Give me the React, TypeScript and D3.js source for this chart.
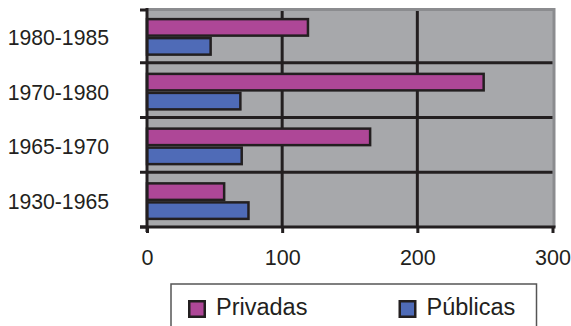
import React, { useEffect, useRef } from 'react';
import * as d3 from 'd3';

const categories = ['1980-1985', '1970-1980', '1965-1970', '1930-1965'];
const series = ['Privadas', 'Públicas'];
const privadas = [120, 250, 166, 58];
const publicas = [48, 70, 71, 76];
const xTicks = [0, 100, 200, 300];

const colors: Record<string, string> = { Privadas: '#ae4797', 'Públicas': '#4f6bb7' };
const dark = '#231f20';

const App: React.FC = () => {
  const svgRef = useRef<SVGSVGElement | null>(null);

  useEffect(() => {
    const width = 571;
    const height = 326;
    const plot = { left: 147, right: 552.5, top: 8, bottom: 227 };
    const svg = d3.select(svgRef.current);
    svg.selectAll('*').remove();
    svg.attr('width', width).attr('height', height);

    const x = d3.scaleLinear().domain([0, 300]).range([plot.left, plot.right]);
    const y = d3.scaleBand().domain(categories).range([plot.top, plot.bottom]);
    const inner = d3.scaleBand().domain(series).range([0, 38]);
    const groupOffset = (y.bandwidth() - 38) / 2 + 1.5;

    // background
    svg.append('rect')
      .attr('x', plot.left).attr('y', plot.top)
      .attr('width', plot.right - plot.left + 2).attr('height', plot.bottom - plot.top)
      .attr('fill', '#a7a8ab');

    // top / right border
    svg.append('path')
      .attr('d', `M${plot.left},${plot.top + 1.5}H${plot.right + 1.5}V${plot.bottom}`)
      .attr('fill', 'none').attr('stroke', '#8b8c8f').attr('stroke-width', 3);

    // vertical gridlines
    svg.append('g').selectAll('line')
      .data([100, 200]).enter().append('line')
      .attr('x1', d => x(d)).attr('x2', d => x(d))
      .attr('y1', plot.top + 3).attr('y2', plot.bottom)
      .attr('stroke', dark).attr('stroke-width', 3);

    // category separators
    svg.append('g').selectAll('line')
      .data(categories.slice(1)).enter().append('line')
      .attr('x1', plot.left).attr('x2', plot.right)
      .attr('y1', d => y(d) as number).attr('y2', d => y(d) as number)
      .attr('stroke', dark).attr('stroke-width', 3);

    // bars
    const rows = categories.map((c, i) => ({ cat: c, values: [privadas[i], publicas[i]] }));
    const sw = 2.5;
    svg.append('g').selectAll('g')
      .data(rows).enter().append('g')
      .attr('transform', d => `translate(0,${(y(d.cat) as number) + groupOffset})`)
      .selectAll('rect')
      .data(d => d.values.map((v, j) => ({ key: series[j], v })))
      .enter().append('rect')
      .attr('x', x(0))
      .attr('y', d => (inner(d.key) as number) + sw / 2)
      .attr('width', d => x(d.v) - x(0) - sw / 2)
      .attr('height', inner.bandwidth() - sw)
      .attr('fill', d => colors[d.key])
      .attr('stroke', dark).attr('stroke-width', sw);

    // Y axis line + ticks at band boundaries
    svg.append('line')
      .attr('x1', plot.left).attr('x2', plot.left)
      .attr('y1', plot.top).attr('y2', plot.bottom + 5)
      .attr('stroke', dark).attr('stroke-width', 3);
    const bounds = categories.map(c => y(c) as number).concat([plot.bottom]);
    svg.append('g').selectAll('line')
      .data(bounds).enter().append('line')
      .attr('x1', plot.left - 7).attr('x2', plot.left)
      .attr('y1', d => d === plot.top ? d + 2 : d).attr('y2', d => d === plot.top ? d + 2 : d)
      .attr('stroke', dark).attr('stroke-width', 3);

    // Y labels
    svg.append('g').selectAll('text')
      .data(categories).enter().append('text')
      .attr('x', 109)
      .attr('y', d => (y(d) as number) + y.bandwidth() / 2 + 9.5)
      .attr('text-anchor', 'end')
      .attr('font-family', 'Liberation Sans, Arial, sans-serif')
      .attr('font-size', 21.2)
      .attr('fill', dark)
      .text(d => d);

    // X axis
    const xAxis = svg.append('g')
      .attr('transform', `translate(0,${plot.bottom})`)
      .call(d3.axisBottom(x).tickValues(xTicks).tickSize(6).tickSizeOuter(0).tickPadding(17));
    xAxis.select('.domain').remove();
    xAxis.selectAll('.tick line').attr('stroke', dark).attr('stroke-width', 3);
    xAxis.selectAll('.tick text')
      .attr('font-family', 'Liberation Sans, Arial, sans-serif')
      .attr('font-size', 21.5)
      .attr('fill', dark);
    svg.append('line')
      .attr('x1', plot.left - 7).attr('x2', plot.right + 3)
      .attr('y1', plot.bottom).attr('y2', plot.bottom)
      .attr('stroke', dark).attr('stroke-width', 3);

    // Legend
    const legend = svg.append('g');
    legend.append('rect')
      .attr('x', 171).attr('y', 284)
      .attr('width', 365.5).attr('height', 60)
      .attr('fill', '#fff').attr('stroke', '#555').attr('stroke-width', 1.5);
    const legendX = d3.scaleOrdinal<string, number>().domain(series).range([188, 398.5]);
    const items = legend.selectAll('g.item')
      .data(series).enter().append('g')
      .attr('class', 'item')
      .attr('transform', d => `translate(${legendX(d)},300)`);
    items.append('rect')
      .attr('x', 1.25).attr('y', 1.25)
      .attr('width', 15.5).attr('height', 15.5)
      .attr('fill', d => colors[d])
      .attr('stroke', dark).attr('stroke-width', 2.5);
    items.append('text')
      .attr('x', 28).attr('y', 15)
      .attr('font-family', 'Liberation Sans, Arial, sans-serif')
      .attr('font-size', 23.5)
      .attr('fill', dark)
      .text(d => d);
  }, []);

  return (
    <svg ref={svgRef} style={{ position: 'absolute', left: 0, top: 0 }}></svg>
  );
};

export default App;
